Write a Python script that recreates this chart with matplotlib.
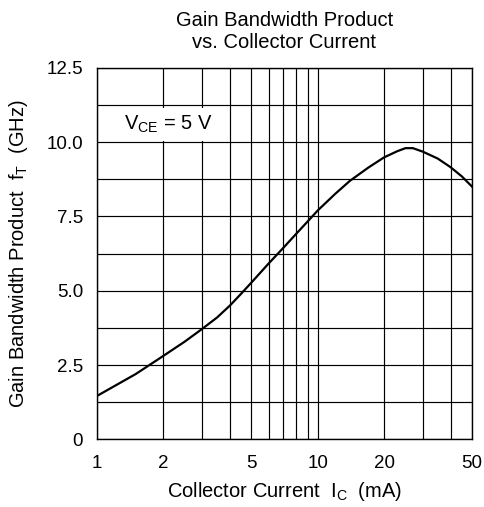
import matplotlib.pyplot as plt
import matplotlib.ticker as mticker

plt.rcParams['font.family'] = ['Liberation Sans', 'DejaVu Sans']

# collector current (mA) and gain bandwidth product fT (GHz)
ic_ma = [1, 1.5, 2, 2.5, 3, 3.5, 4, 4.5, 5, 6, 7, 8, 9, 10, 12, 14, 17, 20,
         23, 25, 27, 30, 35, 40, 45, 50]
ft_ghz = [1.46, 2.2, 2.81, 3.29, 3.72, 4.1, 4.5, 4.9, 5.27, 5.92, 6.45, 6.92,
          7.33, 7.7, 8.26, 8.7, 9.15, 9.49, 9.70, 9.80, 9.80, 9.68, 9.45,
          9.16, 8.85, 8.51]

x_ticks = [1, 2, 5, 10, 20, 50]
x_grid = [1, 2, 3, 4, 5, 6, 7, 8, 9, 10, 20, 30, 40, 50]
y_ticks = [0, 2.5, 5.0, 7.5, 10.0, 12.5]
y_tick_labels = ['0', '2.5', '5.0', '7.5', '10.0', '12.5']
y_grid = [i * 1.25 for i in range(11)]

fig = plt.figure(figsize=(4.85, 5.07), dpi=100)
ax = fig.add_axes([0.2, 0.1335, 0.773, 0.7325])

ax.set_xscale('log')
ax.set_xlim(1, 50)
ax.set_ylim(0, 12.5)

# grid lines drawn explicitly
for gx in x_grid:
    ax.axvline(gx, color='black', lw=0.85, zorder=1)
for gy in y_grid:
    ax.axhline(gy, color='black', lw=0.85, zorder=1)

ax.plot(ic_ma, ft_ghz, color='black', lw=1.6, zorder=3)

ax.xaxis.set_major_locator(mticker.FixedLocator(x_ticks))
ax.xaxis.set_minor_locator(mticker.NullLocator())
ax.xaxis.set_major_formatter(mticker.FixedFormatter([str(v) for v in x_ticks]))
ax.set_yticks(y_ticks)
ax.set_yticklabels(y_tick_labels)
ax.tick_params(length=0, labelsize=13.5)
ax.tick_params(axis='x', pad=11)
ax.tick_params(axis='y', pad=10)

for s in ax.spines.values():
    s.set_linewidth(1.0)

ax.set_xlabel('Collector Current  I$_\\mathregular{C}$  (mA)', fontsize=14.5, labelpad=6)
ax.set_ylabel('Gain Bandwidth Product  f$_\\mathregular{T}$  (GHz)', fontsize=14.5, labelpad=12)
ax.set_title('Gain Bandwidth Product\nvs. Collector Current', fontsize=14.5, pad=14,
             linespacing=1.2)

ax.text(1.33, 10.59, 'V$_\\mathregular{CE}$ = 5 V', fontsize=14.5, va='center', ha='left',
        zorder=4, bbox=dict(facecolor='white', edgecolor='none', pad=4))

fig.savefig('out.png', dpi=100)
